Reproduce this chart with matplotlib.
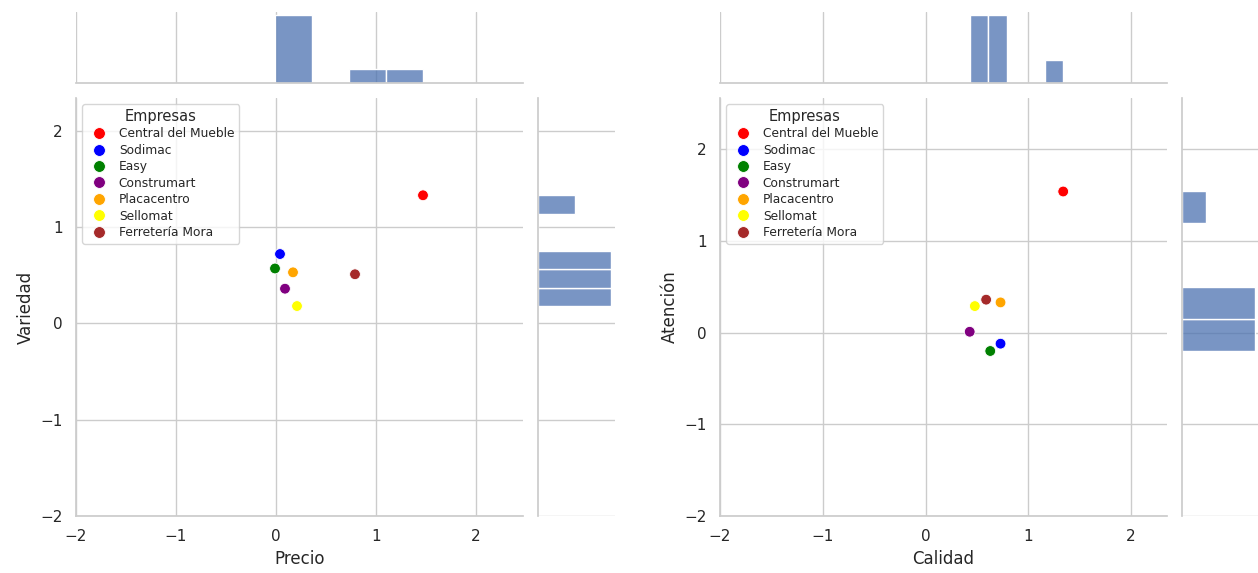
import numpy as np
import matplotlib
matplotlib.use("Agg")
import matplotlib.pyplot as plt
import seaborn as sns

empresas = ["Central del Mueble", "Sodimac", "Easy", "Construmart",
            "Placacentro", "Sellomat", "Ferretería Mora"]
colores = ["red", "blue", "green", "purple", "orange", "yellow", "brown"]

precio = [1.47, 0.04, -0.01, 0.09, 0.17, 0.21, 0.79]
variedad = [1.33, 0.72, 0.57, 0.36, 0.53, 0.18, 0.51]

calidad = [1.34, 0.73, 0.63, 0.43, 0.73, 0.48, 0.59]
atencion = [1.54, -0.12, -0.20, 0.01, 0.33, 0.29, 0.36]

sns.set_theme(style="whitegrid")

W, H = 1258, 573
fig = plt.figure(figsize=(W / 100, H / 100), dpi=100)


def box(x0, x1, y0, y1):
    # pixel box (y from top) -> figure fraction
    return [x0 / W, 1 - y1 / H, (x1 - x0) / W, (y1 - y0) / H]


def panel(x, y, xlabel, ylabel, left, xlim, ylim):
    ax = fig.add_axes(box(left, left + 447, 98, 516))
    ax_top = fig.add_axes(box(left, left + 447, 12, 83), sharex=ax)
    ax_right = fig.add_axes(box(left + 462, left + 539, 98, 516), sharey=ax)

    sns.scatterplot(x=x, y=y, hue=empresas, palette=colores, s=60, ax=ax)
    sns.histplot(x=x, ax=ax_top)
    sns.histplot(y=y, ax=ax_right)

    ax.set_xlim(*xlim)
    ax.set_ylim(*ylim)
    ax.set_xticks([-2, -1, 0, 1, 2])
    ax.set_yticks([-2, -1, 0, 1, 2])
    ax.set_xlabel(xlabel, fontsize=12)
    ax.set_ylabel(ylabel, fontsize=12)
    ax.tick_params(labelsize=11)
    sns.despine(ax=ax)

    sns.move_legend(ax, "upper left", title="Empresas", fontsize=8.8,
                    title_fontsize=10.5, markerscale=1.1,
                    labelspacing=0.28, handletextpad=0.6)

    ax_top.set_ylabel("")
    ax_top.yaxis.grid(False)
    ax_top.tick_params(labelbottom=False, labelleft=False, left=False)
    sns.despine(ax=ax_top, left=True)

    ax_right.set_xlabel("")
    ax_right.xaxis.grid(False)
    ax_right.tick_params(labelleft=False, labelbottom=False, bottom=False)
    sns.despine(ax=ax_right, bottom=True)


panel(precio, variedad, "Precio", "Variedad", 76, (-2, 2.47), (-2, 2.34))
panel(calidad, atencion, "Calidad", "Atención", 720, (-2, 2.35), (-2, 2.56))

fig.savefig("out.png", dpi=100)
